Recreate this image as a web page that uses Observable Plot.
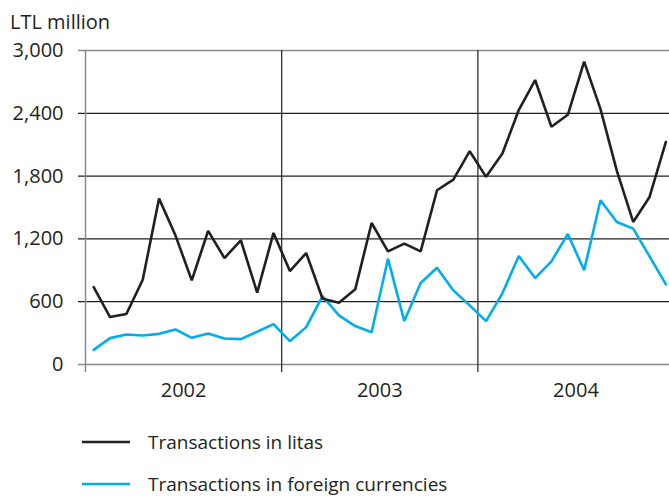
<!DOCTYPE html>
<html>
<head>
<meta charset="utf-8">
<script src="https://cdn.jsdelivr.net/npm/d3@7"></script>
<script src="https://cdn.jsdelivr.net/npm/@observablehq/plot@0.6"></script>
<style>
  body { margin: 0; background: #fff; }
  #wrap { position: relative; width: 669px; height: 496px; font-family: "Open Sans", sans-serif; color: #231f20; }
  #title { position: absolute; left: 10px; top: 12px; font-size: 20px; line-height: 20px; white-space: nowrap; }
  #chart { position: absolute; left: 0; top: 36px; }
  .leg { position: absolute; left: 82px; font-size: 19px; line-height: 20px; white-space: nowrap; display: flex; align-items: center; }
  .leg svg { margin-right: 18px; }
</style>
</head>
<body>
<div id="wrap">
  <div id="title">LTL million</div>
  <div id="chart"></div>
  <div id="legend"></div>
</div>
<script>
const years = ["2002", "2003", "2004"];
const yTicks = [0, 600, 1200, 1800, 2400, 3000];
const seriesNames = ["Transactions in litas", "Transactions in foreign currencies"];
const seriesColors = ["#231f20", "#00aeef"];
// monthly values, Jan 2002 – Dec 2004
const litas = [740, 453, 482, 810, 1585, 1234, 804, 1276, 1017, 1187, 686, 1257,
               893, 1065, 628, 590, 718, 1352, 1081, 1155, 1081, 1665, 1767, 2038,
               1793, 2016, 2431, 2718, 2271, 2386, 2893, 2440, 1850, 1362, 1601, 2127];
const foreign = [140, 252, 287, 277, 293, 335, 255, 297, 249, 242, 313, 386,
                 223, 357, 654, 469, 367, 309, 1011, 415, 778, 925, 708, 565,
                 415, 680, 1037, 826, 986, 1247, 900, 1569, 1362, 1298, 1033, 766];

const yearBounds = years.map((y, i) => i * 12);
const yearMids = years.map((y, i) => i * 12 + 6);
const inner = yTicks.filter(d => d !== 0 && d !== 3000);
const outer = yTicks.filter(d => d === 0 || d === 3000);

const plot = Plot.plot({
  width: 669,
  height: 374,
  marginTop: 14,
  marginBottom: 46,
  marginLeft: 85,
  marginRight: 0,
  x: {domain: [0, 35.72], axis: null},
  y: {domain: [0, 3000], axis: null},
  style: {fontFamily: "Open Sans, sans-serif", fontSize: "20px", color: "#231f20", background: "transparent", overflow: "visible"},
  marks: [
    Plot.ruleY(inner, {stroke: "#231f20", strokeWidth: 1.2, insetLeft: -7}),
    Plot.ruleY(outer, {stroke: "#8a8a8a", strokeWidth: 1.5, insetLeft: -7}),
    Plot.ruleX(yearBounds.filter(d => d > 0), {stroke: "#231f20", strokeWidth: 1.2, insetBottom: -8}),
    Plot.ruleX(yearBounds.filter(d => d === 0), {stroke: "#8a8a8a", strokeWidth: 1.5, insetBottom: -8}),
    Plot.axisY({ticks: yTicks, tickSize: 0, tickPadding: 22, tickFormat: d3.format(","), label: null, fill: "#231f20"}),
    Plot.axisX({ticks: yearMids, tickSize: 0, tickPadding: 18, tickFormat: d => years[yearMids.indexOf(d)], label: null, fill: "#231f20"}),
    Plot.lineY(foreign, {x: (d, i) => i + 0.5, y: d => d, stroke: seriesColors[1], strokeWidth: 2.6, strokeLinejoin: "miter"}),
    Plot.lineY(litas, {x: (d, i) => i + 0.5, y: d => d, stroke: seriesColors[0], strokeWidth: 2.6, strokeLinejoin: "miter"})
  ]
});
document.getElementById("chart").appendChild(plot);

const legend = document.getElementById("legend");
const tops = [432, 474];
seriesNames.forEach((name, i) => {
  const row = document.createElement("div");
  row.className = "leg";
  row.style.top = tops[i] + "px";
  row.innerHTML = `<svg width="48" height="20"><line x1="0" x2="48" y1="10" y2="10" stroke="${seriesColors[i]}" stroke-width="2.6"/></svg><span>${name}</span>`;
  legend.appendChild(row);
});
</script>
</body>
</html>
